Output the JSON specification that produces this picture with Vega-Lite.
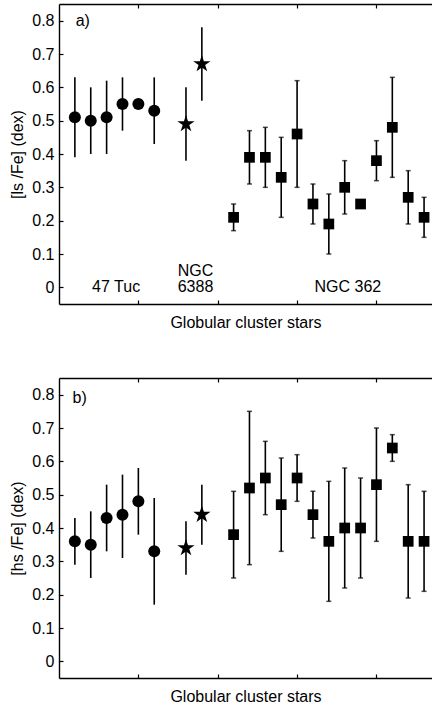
{
  "$schema": "https://vega.github.io/schema/vega-lite/v6.json",
  "padding": {"left": 9, "top": 3, "right": 0, "bottom": 0},
  "spacing": 46,
  "config": {
    "view": {"stroke": null},
    "font": "Liberation Sans",
    "axis": {
      "grid": false,
      "domainColor": "black",
      "domainWidth": 1.4,
      "tickColor": "black",
      "tickWidth": 1.2,
      "tickSize": -4,
      "labelOverlap": false,
      "labelColor": "black",
      "labelFontSize": 16,
      "titleColor": "black",
      "titleFontSize": 16,
      "titleFontWeight": "normal"
    }
  },
  "datasets": {
    "a": [
      {"x": 1, "v": 0.51, "lo": 0.39, "hi": 0.63, "grp": "47 Tuc"},
      {"x": 2, "v": 0.50, "lo": 0.40, "hi": 0.60, "grp": "47 Tuc"},
      {"x": 3, "v": 0.51, "lo": 0.40, "hi": 0.62, "grp": "47 Tuc"},
      {"x": 4, "v": 0.55, "lo": 0.47, "hi": 0.63, "grp": "47 Tuc"},
      {"x": 5, "v": 0.55, "lo": null, "hi": null, "grp": "47 Tuc"},
      {"x": 6, "v": 0.53, "lo": 0.43, "hi": 0.63, "grp": "47 Tuc"},
      {"x": 8, "v": 0.49, "lo": 0.38, "hi": 0.60, "grp": "NGC 6388"},
      {"x": 9, "v": 0.67, "lo": 0.56, "hi": 0.78, "grp": "NGC 6388"},
      {"x": 11, "v": 0.21, "lo": 0.17, "hi": 0.25, "grp": "NGC 362"},
      {"x": 12, "v": 0.39, "lo": 0.31, "hi": 0.47, "grp": "NGC 362"},
      {"x": 13, "v": 0.39, "lo": 0.30, "hi": 0.48, "grp": "NGC 362"},
      {"x": 14, "v": 0.33, "lo": 0.21, "hi": 0.45, "grp": "NGC 362"},
      {"x": 15, "v": 0.46, "lo": 0.30, "hi": 0.62, "grp": "NGC 362"},
      {"x": 16, "v": 0.25, "lo": 0.19, "hi": 0.31, "grp": "NGC 362"},
      {"x": 17, "v": 0.19, "lo": 0.10, "hi": 0.28, "grp": "NGC 362"},
      {"x": 18, "v": 0.30, "lo": 0.22, "hi": 0.38, "grp": "NGC 362"},
      {"x": 19, "v": 0.25, "lo": 0.24, "hi": 0.26, "grp": "NGC 362"},
      {"x": 20, "v": 0.38, "lo": 0.32, "hi": 0.44, "grp": "NGC 362"},
      {"x": 21, "v": 0.48, "lo": 0.33, "hi": 0.63, "grp": "NGC 362"},
      {"x": 22, "v": 0.27, "lo": 0.19, "hi": 0.35, "grp": "NGC 362"},
      {"x": 23, "v": 0.21, "lo": 0.15, "hi": 0.27, "grp": "NGC 362"}
    ],
    "b": [
      {"x": 1, "v": 0.36, "lo": 0.29, "hi": 0.43, "grp": "47 Tuc"},
      {"x": 2, "v": 0.35, "lo": 0.25, "hi": 0.45, "grp": "47 Tuc"},
      {"x": 3, "v": 0.43, "lo": 0.33, "hi": 0.53, "grp": "47 Tuc"},
      {"x": 4, "v": 0.44, "lo": 0.31, "hi": 0.56, "grp": "47 Tuc"},
      {"x": 5, "v": 0.48, "lo": 0.38, "hi": 0.58, "grp": "47 Tuc"},
      {"x": 6, "v": 0.33, "lo": 0.17, "hi": 0.49, "grp": "47 Tuc"},
      {"x": 8, "v": 0.34, "lo": 0.26, "hi": 0.42, "grp": "NGC 6388"},
      {"x": 9, "v": 0.44, "lo": 0.35, "hi": 0.53, "grp": "NGC 6388"},
      {"x": 11, "v": 0.38, "lo": 0.25, "hi": 0.51, "grp": "NGC 362"},
      {"x": 12, "v": 0.52, "lo": 0.29, "hi": 0.75, "grp": "NGC 362"},
      {"x": 13, "v": 0.55, "lo": 0.44, "hi": 0.66, "grp": "NGC 362"},
      {"x": 14, "v": 0.47, "lo": 0.33, "hi": 0.61, "grp": "NGC 362"},
      {"x": 15, "v": 0.55, "lo": 0.48, "hi": 0.62, "grp": "NGC 362"},
      {"x": 16, "v": 0.44, "lo": 0.37, "hi": 0.51, "grp": "NGC 362"},
      {"x": 17, "v": 0.36, "lo": 0.18, "hi": 0.54, "grp": "NGC 362"},
      {"x": 18, "v": 0.40, "lo": 0.22, "hi": 0.58, "grp": "NGC 362"},
      {"x": 19, "v": 0.40, "lo": 0.25, "hi": 0.55, "grp": "NGC 362"},
      {"x": 20, "v": 0.53, "lo": 0.36, "hi": 0.70, "grp": "NGC 362"},
      {"x": 21, "v": 0.64, "lo": 0.60, "hi": 0.68, "grp": "NGC 362"},
      {"x": 22, "v": 0.36, "lo": 0.19, "hi": 0.53, "grp": "NGC 362"},
      {"x": 23, "v": 0.36, "lo": 0.21, "hi": 0.51, "grp": "NGC 362"}
    ],
    "labels_a": [
      {"x": 1.5, "y": 0.8, "t": "a)"},
      {"x": 3.6, "y": 0.0, "t": "47 Tuc"},
      {"x": 8.6, "y": 0.05, "t": "NGC"},
      {"x": 8.6, "y": 0.0, "t": "6388"},
      {"x": 18.2, "y": 0.0, "t": "NGC 362"}
    ],
    "labels_b": [
      {"x": 1.3, "y": 0.79, "t": "b)"}
    ]
  },
  "vconcat": [
    {
      "width": 373,
      "height": 300,
      "data": {"name": "a"},
      "resolve": {"axis": {"x": "independent"}},
      "layer": [
        {
          "mark": {"type": "rule", "strokeWidth": 1.6, "color": "black"},
          "encoding": {
            "x": {"field": "x", "type": "quantitative", "scale": {"domain": [0, 23.5], "nice": false, "zero": false},
                  "axis": {"orient": "bottom", "values": [5, 10, 15, 20], "tickCount": 10, "labels": false, "title": "Globular cluster stars", "titlePadding": 10}},
            "y": {"field": "lo", "type": "quantitative", "scale": {"domain": [-0.05, 0.85], "nice": false, "zero": false},
                  "axis": {"values": [0, 0.1, 0.2, 0.3, 0.4, 0.5, 0.6, 0.7, 0.8], "tickCount": 12, "format": ".1~f", "labelOverlap": false, "labelPadding": 9, "title": "[ls /Fe] (dex)", "titlePadding": 6}},
            "y2": {"field": "hi"}
          }
        },
        {
          "transform": [{"filter": "datum.grp === 'NGC 362'"}],
          "mark": {"type": "tick", "orient": "horizontal", "size": 5, "thickness": 1.5, "color": "black"},
          "encoding": {
            "x": {"field": "x", "type": "quantitative", "axis": null},
            "y": {"field": "lo", "type": "quantitative"}
          }
        },
        {
          "transform": [{"filter": "datum.grp === 'NGC 362'"}],
          "mark": {"type": "tick", "orient": "horizontal", "size": 5, "thickness": 1.5, "color": "black"},
          "encoding": {
            "x": {"field": "x", "type": "quantitative",
                  "axis": {"orient": "top", "values": [5, 10, 15, 20], "tickCount": 10, "labels": false, "title": null}},
            "y": {"field": "hi", "type": "quantitative"}
          }
        },
        {
          "transform": [{"filter": "datum.grp === '47 Tuc'"}],
          "mark": {"type": "point", "shape": "circle", "size": 144, "filled": true, "opacity": 1, "color": "black"},
          "encoding": {
            "x": {"field": "x", "type": "quantitative", "axis": null},
            "y": {"field": "v", "type": "quantitative"}
          }
        },
        {
          "transform": [{"filter": "datum.grp === 'NGC 6388'"}],
          "mark": {"type": "point", "shape": "M0,-1L0.2245,-0.309L0.951,-0.309L0.363,0.118L0.588,0.809L0,0.382L-0.588,0.809L-0.363,0.118L-0.951,-0.309L-0.2245,-0.309Z", "size": 330, "filled": true, "opacity": 1, "color": "black"},
          "encoding": {
            "x": {"field": "x", "type": "quantitative", "axis": null},
            "y": {"field": "v", "type": "quantitative"}
          }
        },
        {
          "transform": [{"filter": "datum.grp === 'NGC 362'"}],
          "mark": {"type": "point", "shape": "square", "size": 115, "filled": true, "opacity": 1, "color": "black"},
          "encoding": {
            "x": {"field": "x", "type": "quantitative", "axis": null},
            "y": {"field": "v", "type": "quantitative"}
          }
        },
        {
          "data": {"name": "labels_a"},
          "mark": {"type": "text", "fontSize": 16, "color": "black", "align": "center", "baseline": "middle"},
          "encoding": {
            "x": {"field": "x", "type": "quantitative", "axis": null},
            "y": {"field": "y", "type": "quantitative"},
            "text": {"field": "t"}
          }
        }
      ]
    },
    {
      "width": 373,
      "height": 300,
      "data": {"name": "b"},
      "resolve": {"axis": {"x": "independent"}},
      "layer": [
        {
          "mark": {"type": "rule", "strokeWidth": 1.6, "color": "black"},
          "encoding": {
            "x": {"field": "x", "type": "quantitative", "scale": {"domain": [0, 23.5], "nice": false, "zero": false},
                  "axis": {"orient": "bottom", "values": [5, 10, 15, 20], "tickCount": 10, "labels": false, "title": "Globular cluster stars", "titlePadding": 10}},
            "y": {"field": "lo", "type": "quantitative", "scale": {"domain": [-0.05, 0.85], "nice": false, "zero": false},
                  "axis": {"values": [0, 0.1, 0.2, 0.3, 0.4, 0.5, 0.6, 0.7, 0.8], "tickCount": 12, "format": ".1~f", "labelOverlap": false, "labelPadding": 9, "title": "[hs /Fe] (dex)", "titlePadding": 6}},
            "y2": {"field": "hi"}
          }
        },
        {
          "transform": [{"filter": "datum.grp === 'NGC 362'"}],
          "mark": {"type": "tick", "orient": "horizontal", "size": 5, "thickness": 1.5, "color": "black"},
          "encoding": {
            "x": {"field": "x", "type": "quantitative", "axis": null},
            "y": {"field": "lo", "type": "quantitative"}
          }
        },
        {
          "transform": [{"filter": "datum.grp === 'NGC 362'"}],
          "mark": {"type": "tick", "orient": "horizontal", "size": 5, "thickness": 1.5, "color": "black"},
          "encoding": {
            "x": {"field": "x", "type": "quantitative",
                  "axis": {"orient": "top", "values": [5, 10, 15, 20], "tickCount": 10, "labels": false, "title": null}},
            "y": {"field": "hi", "type": "quantitative"}
          }
        },
        {
          "transform": [{"filter": "datum.grp === '47 Tuc'"}],
          "mark": {"type": "point", "shape": "circle", "size": 144, "filled": true, "opacity": 1, "color": "black"},
          "encoding": {
            "x": {"field": "x", "type": "quantitative", "axis": null},
            "y": {"field": "v", "type": "quantitative"}
          }
        },
        {
          "transform": [{"filter": "datum.grp === 'NGC 6388'"}],
          "mark": {"type": "point", "shape": "M0,-1L0.2245,-0.309L0.951,-0.309L0.363,0.118L0.588,0.809L0,0.382L-0.588,0.809L-0.363,0.118L-0.951,-0.309L-0.2245,-0.309Z", "size": 330, "filled": true, "opacity": 1, "color": "black"},
          "encoding": {
            "x": {"field": "x", "type": "quantitative", "axis": null},
            "y": {"field": "v", "type": "quantitative"}
          }
        },
        {
          "transform": [{"filter": "datum.grp === 'NGC 362'"}],
          "mark": {"type": "point", "shape": "square", "size": 115, "filled": true, "opacity": 1, "color": "black"},
          "encoding": {
            "x": {"field": "x", "type": "quantitative", "axis": null},
            "y": {"field": "v", "type": "quantitative"}
          }
        },
        {
          "data": {"name": "labels_b"},
          "mark": {"type": "text", "fontSize": 16, "color": "black", "align": "center", "baseline": "middle"},
          "encoding": {
            "x": {"field": "x", "type": "quantitative", "axis": null},
            "y": {"field": "y", "type": "quantitative"},
            "text": {"field": "t"}
          }
        }
      ]
    }
  ]
}
